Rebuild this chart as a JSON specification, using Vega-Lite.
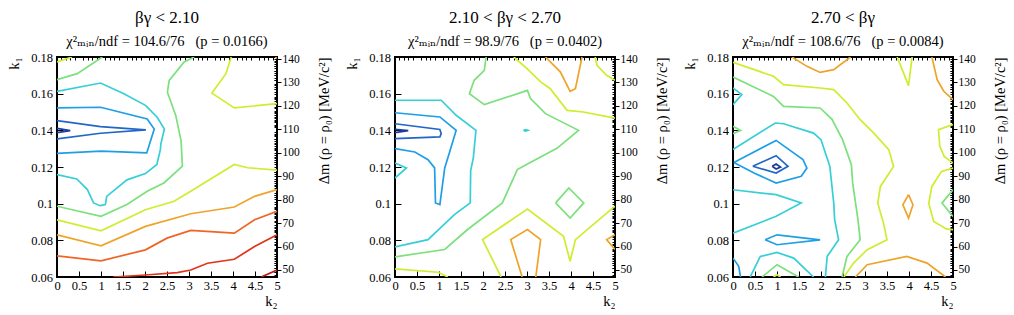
{
"$schema": "https://vega.github.io/schema/vega-lite/v6.json",
"background": "white",
"padding": {"left": 5, "top": 8, "right": 5, "bottom": 5},
"config": {
  "view": {"stroke": "black", "strokeWidth": 2},
  "font": "Liberation Serif, Times New Roman, DejaVu Serif, serif",
  "axis": {"grid": false, "domain": false, "labelFont": "Liberation Serif, Times New Roman, DejaVu Serif, serif", "titleFont": "Liberation Serif, Times New Roman, DejaVu Serif, serif", "labelFontSize": 12.5, "titleFontSize": 14.5, "labelColor": "black", "titleColor": "black", "tickColor": "black", "titleFontWeight": "normal", "labelFlush": false, "labelOverlap": false, "tickWidth": 1},
  "title": {"font": "Liberation Serif, Times New Roman, DejaVu Serif, serif", "fontSize": 17, "fontWeight": "normal", "subtitleFont": "Liberation Serif, Times New Roman, DejaVu Serif, serif", "subtitleFontSize": 14.5, "color": "black", "subtitleColor": "black", "anchor": "middle", "offset": 1.5, "subtitlePadding": 8}
},
"datasets": {
"p1": [
{"c":"a","l":5,"o":0,"x":0,"y":0.1773},{"c":"a","l":5,"o":1,"x":0.34,"y":0.18},
{"c":"b","l":4,"o":0,"x":0,"y":0.1676},{"c":"b","l":4,"o":1,"x":0.46,"y":0.1709},{"c":"b","l":4,"o":2,"x":1.03,"y":0.18},
{"c":"c","l":3,"o":0,"x":0,"y":0.1612},{"c":"c","l":3,"o":1,"x":0.99,"y":0.1658},{"c":"c","l":3,"o":2,"x":1.52,"y":0.16},{"c":"c","l":3,"o":3,"x":2.02,"y":0.1535},{"c":"c","l":3,"o":4,"x":2.28,"y":0.147},{"c":"c","l":3,"o":5,"x":2.44,"y":0.1407},{"c":"c","l":3,"o":6,"x":2.36,"y":0.1325},{"c":"c","l":3,"o":7,"x":2.35,"y":0.1296},{"c":"c","l":3,"o":8,"x":2.27,"y":0.1214},{"c":"c","l":3,"o":9,"x":2.01,"y":0.1164},{"c":"c","l":3,"o":10,"x":1.59,"y":0.113},{"c":"c","l":3,"o":11,"x":1.13,"y":0.104},{"c":"c","l":3,"o":12,"x":1.1,"y":0.0995},{"c":"c","l":3,"o":13,"x":0.98,"y":0.0989},{"c":"c","l":3,"o":14,"x":0.83,"y":0.1004},{"c":"c","l":3,"o":15,"x":0.69,"y":0.1077},{"c":"c","l":3,"o":16,"x":0.45,"y":0.1135},{"c":"c","l":3,"o":17,"x":0,"y":0.1159},
{"c":"d","l":2,"o":0,"x":0,"y":0.1522},{"c":"d","l":2,"o":1,"x":0.99,"y":0.1526},{"c":"d","l":2,"o":2,"x":2.05,"y":0.1462},{"c":"d","l":2,"o":3,"x":2.21,"y":0.1407},{"c":"d","l":2,"o":4,"x":2.04,"y":0.1277},{"c":"d","l":2,"o":5,"x":1.0,"y":0.1287},{"c":"d","l":2,"o":6,"x":0,"y":0.1274},
{"c":"e","l":1,"o":0,"x":0,"y":0.1453},{"c":"e","l":1,"o":1,"x":0.99,"y":0.142},{"c":"e","l":1,"o":2,"x":2.02,"y":0.1402},{"c":"e","l":1,"o":3,"x":0.99,"y":0.1384},{"c":"e","l":1,"o":4,"x":0,"y":0.1353},
{"c":"f","l":0,"o":0,"x":0,"y":0.1411},{"c":"f","l":0,"o":1,"x":0.3,"y":0.1398},{"c":"f","l":0,"o":2,"x":0,"y":0.1387},
{"c":"g","l":4,"o":0,"x":3.12,"y":0.18},{"c":"g","l":4,"o":1,"x":2.89,"y":0.1773},{"c":"g","l":4,"o":2,"x":2.55,"y":0.1672},{"c":"g","l":4,"o":3,"x":2.51,"y":0.1608},{"c":"g","l":4,"o":4,"x":2.7,"y":0.148},{"c":"g","l":4,"o":5,"x":2.82,"y":0.1343},{"c":"g","l":4,"o":6,"x":2.85,"y":0.1205},{"c":"g","l":4,"o":7,"x":2.43,"y":0.1113},{"c":"g","l":4,"o":8,"x":2.05,"y":0.1068},{"c":"g","l":4,"o":9,"x":1.59,"y":0.0995},{"c":"g","l":4,"o":10,"x":1.0,"y":0.0931},{"c":"g","l":4,"o":11,"x":0,"y":0.0986},
{"c":"h","l":5,"o":0,"x":3.96,"y":0.18},{"c":"h","l":5,"o":1,"x":3.84,"y":0.1709},{"c":"h","l":5,"o":2,"x":3.52,"y":0.1603},{"c":"h","l":5,"o":3,"x":4.03,"y":0.1522},{"c":"h","l":5,"o":4,"x":5,"y":0.1546},
{"c":"i","l":5,"o":0,"x":0,"y":0.0912},{"c":"i","l":5,"o":1,"x":1,"y":0.0852},{"c":"i","l":5,"o":2,"x":2.01,"y":0.0967},{"c":"i","l":5,"o":3,"x":2.66,"y":0.1013},{"c":"i","l":5,"o":4,"x":3.04,"y":0.1068},{"c":"i","l":5,"o":5,"x":4.03,"y":0.1214},{"c":"i","l":5,"o":6,"x":4.33,"y":0.1196},{"c":"i","l":5,"o":7,"x":5,"y":0.1183},
{"c":"j","l":6,"o":0,"x":0,"y":0.083},{"c":"j","l":6,"o":1,"x":1,"y":0.077},{"c":"j","l":6,"o":2,"x":2.01,"y":0.0876},{"c":"j","l":6,"o":3,"x":3.04,"y":0.0945},{"c":"j","l":6,"o":4,"x":4.03,"y":0.0982},{"c":"j","l":6,"o":5,"x":4.49,"y":0.104},{"c":"j","l":6,"o":6,"x":5,"y":0.1077},
{"c":"k","l":7,"o":0,"x":0,"y":0.0715},{"c":"k","l":7,"o":1,"x":1,"y":0.0688},{"c":"k","l":7,"o":2,"x":2.01,"y":0.0748},{"c":"k","l":7,"o":3,"x":2.5,"y":0.0812},{"c":"k","l":7,"o":4,"x":3.04,"y":0.0854},{"c":"k","l":7,"o":5,"x":4.03,"y":0.0839},{"c":"k","l":7,"o":6,"x":4.49,"y":0.0912},{"c":"k","l":7,"o":7,"x":5,"y":0.0958},
{"c":"l","l":8,"o":0,"x":1.28,"y":0.06},{"c":"l","l":8,"o":1,"x":2.01,"y":0.0611},{"c":"l","l":8,"o":2,"x":2.73,"y":0.0624},{"c":"l","l":8,"o":3,"x":3.04,"y":0.0638},{"c":"l","l":8,"o":4,"x":3.42,"y":0.0675},{"c":"l","l":8,"o":5,"x":4.03,"y":0.0697},{"c":"l","l":8,"o":6,"x":4.49,"y":0.0766},{"c":"l","l":8,"o":7,"x":5,"y":0.083},
{"c":"m","l":9,"o":0,"x":4.64,"y":0.06},{"c":"m","l":9,"o":1,"x":5,"y":0.0638},
{"c":"n","l":6,"o":0,"x":4.96,"y":0.18},{"c":"n","l":6,"o":1,"x":5,"y":0.1793}
],
"p2": [
{"c":"a","l":4,"o":0,"x":2.07,"y":0.18},{"c":"a","l":4,"o":1,"x":2.03,"y":0.1727},{"c":"a","l":4,"o":2,"x":1.8,"y":0.1673},{"c":"a","l":4,"o":3,"x":1.69,"y":0.16},{"c":"a","l":4,"o":4,"x":2.03,"y":0.154},{"c":"a","l":4,"o":5,"x":3.01,"y":0.1618},{"c":"a","l":4,"o":6,"x":3.08,"y":0.1573},{"c":"a","l":4,"o":7,"x":3.42,"y":0.1491},{"c":"a","l":4,"o":8,"x":4.17,"y":0.14},{"c":"a","l":4,"o":9,"x":3.68,"y":0.1302},{"c":"a","l":4,"o":10,"x":3.0,"y":0.1215},{"c":"a","l":4,"o":11,"x":2.78,"y":0.1186},{"c":"a","l":4,"o":12,"x":2.44,"y":0.1004},{"c":"a","l":4,"o":13,"x":1.65,"y":0.0859},{"c":"a","l":4,"o":14,"x":1.13,"y":0.075},{"c":"a","l":4,"o":15,"x":0,"y":0.071},
{"c":"b","l":5,"o":0,"x":2.7,"y":0.18},{"c":"b","l":5,"o":1,"x":3.0,"y":0.1736},{"c":"b","l":5,"o":2,"x":3.31,"y":0.1664},{"c":"b","l":5,"o":3,"x":3.53,"y":0.1627},{"c":"b","l":5,"o":4,"x":3.91,"y":0.1509},{"c":"b","l":5,"o":5,"x":4.28,"y":0.15},{"c":"b","l":5,"o":6,"x":5,"y":0.1467},
{"c":"c","l":6,"o":0,"x":3.42,"y":0.18},{"c":"c","l":6,"o":1,"x":3.76,"y":0.1718},{"c":"c","l":6,"o":2,"x":3.98,"y":0.1613},{"c":"c","l":6,"o":3,"x":4.1,"y":0.1627},{"c":"c","l":6,"o":4,"x":4.25,"y":0.18},
{"c":"d","l":5,"o":0,"x":4.55,"y":0.18},{"c":"d","l":5,"o":1,"x":4.59,"y":0.1755},{"c":"d","l":5,"o":2,"x":4.81,"y":0.17},{"c":"d","l":5,"o":3,"x":5,"y":0.1673},
{"c":"e","l":3,"o":0,"x":0,"y":0.1564},{"c":"e","l":3,"o":1,"x":1.05,"y":0.1564},{"c":"e","l":3,"o":2,"x":1.39,"y":0.1482},{"c":"e","l":3,"o":3,"x":1.84,"y":0.14},{"c":"e","l":3,"o":4,"x":1.78,"y":0.125},{"c":"e","l":3,"o":5,"x":1.72,"y":0.118},{"c":"e","l":3,"o":6,"x":1.71,"y":0.1004},{"c":"e","l":3,"o":7,"x":1.35,"y":0.094},{"c":"e","l":3,"o":8,"x":0.75,"y":0.0804},{"c":"e","l":3,"o":9,"x":0,"y":0.0764},
{"c":"f","l":2,"o":0,"x":0,"y":0.1496},{"c":"f","l":2,"o":1,"x":1.02,"y":0.1473},{"c":"f","l":2,"o":2,"x":1.39,"y":0.14},{"c":"f","l":2,"o":3,"x":1.24,"y":0.128},{"c":"f","l":2,"o":4,"x":1.13,"y":0.1195},{"c":"f","l":2,"o":5,"x":1.02,"y":0.0995},{"c":"f","l":2,"o":6,"x":0.92,"y":0.1004},{"c":"f","l":2,"o":7,"x":0.9,"y":0.1195},{"c":"f","l":2,"o":8,"x":0.75,"y":0.124},{"c":"f","l":2,"o":9,"x":0.45,"y":0.1282},{"c":"f","l":2,"o":10,"x":0,"y":0.13},
{"c":"g","l":1,"o":0,"x":0,"y":0.1436},{"c":"g","l":1,"o":1,"x":1.02,"y":0.1405},{"c":"g","l":1,"o":2,"x":1.05,"y":0.1382},{"c":"g","l":1,"o":3,"x":1.02,"y":0.1364},{"c":"g","l":1,"o":4,"x":0,"y":0.1355},
{"c":"h","l":0,"o":0,"x":0,"y":0.1405},{"c":"h","l":0,"o":1,"x":0.3,"y":0.1398},{"c":"h","l":0,"o":2,"x":0,"y":0.1387},
{"c":"i","l":3,"o":0,"x":2.92,"y":0.14},{"c":"i","l":3,"o":1,"x":2.97,"y":0.1404},{"c":"i","l":3,"o":2,"x":3.02,"y":0.14},{"c":"i","l":3,"o":3,"x":2.97,"y":0.1396},{"c":"i","l":3,"o":4,"x":2.92,"y":0.14},
{"c":"j","l":3,"o":0,"x":0,"y":0.1222},{"c":"j","l":3,"o":1,"x":0.26,"y":0.1195},{"c":"j","l":3,"o":2,"x":0,"y":0.114},
{"c":"k","l":4,"o":0,"x":3.65,"y":0.1004},{"c":"k","l":4,"o":1,"x":3.95,"y":0.1086},{"c":"k","l":4,"o":2,"x":4.29,"y":0.1004},{"c":"k","l":4,"o":3,"x":3.98,"y":0.0922},{"c":"k","l":4,"o":4,"x":3.65,"y":0.1004},
{"c":"l","l":5,"o":0,"x":2.41,"y":0.06},{"c":"l","l":5,"o":1,"x":1.99,"y":0.0804},{"c":"l","l":5,"o":2,"x":3.01,"y":0.0971},{"c":"l","l":5,"o":3,"x":3.83,"y":0.0822},{"c":"l","l":5,"o":4,"x":3.98,"y":0.0686},{"c":"l","l":5,"o":5,"x":4.1,"y":0.0804},{"c":"l","l":5,"o":6,"x":5,"y":0.0986},
{"c":"m","l":5,"o":0,"x":0,"y":0.0644},{"c":"m","l":5,"o":1,"x":0.98,"y":0.0626},{"c":"m","l":5,"o":2,"x":1.2,"y":0.06},
{"c":"n","l":6,"o":0,"x":2.89,"y":0.06},{"c":"n","l":6,"o":1,"x":2.63,"y":0.0804},{"c":"n","l":6,"o":2,"x":3.01,"y":0.0859},{"c":"n","l":6,"o":3,"x":3.31,"y":0.0804},{"c":"n","l":6,"o":4,"x":3.2,"y":0.06},
{"c":"o","l":6,"o":0,"x":5,"y":0.0831},{"c":"o","l":6,"o":1,"x":4.81,"y":0.0804},{"c":"o","l":6,"o":2,"x":5,"y":0.075}
],
"p3": [
{"c":"a","l":5,"o":0,"x":0,"y":0.1771},{"c":"a","l":5,"o":1,"x":0.92,"y":0.1695},{"c":"a","l":5,"o":2,"x":1.15,"y":0.1649},{"c":"a","l":5,"o":3,"x":1.98,"y":0.1631},{"c":"a","l":5,"o":4,"x":2.29,"y":0.1622},{"c":"a","l":5,"o":5,"x":2.59,"y":0.1549},{"c":"a","l":5,"o":6,"x":2.89,"y":0.1458},{"c":"a","l":5,"o":7,"x":3.2,"y":0.1385},{"c":"a","l":5,"o":8,"x":3.54,"y":0.1295},{"c":"a","l":5,"o":9,"x":3.65,"y":0.1203},{"c":"a","l":5,"o":10,"x":3.35,"y":0.1094},{"c":"a","l":5,"o":11,"x":3.29,"y":0.1003},{"c":"a","l":5,"o":12,"x":3.42,"y":0.0894},{"c":"a","l":5,"o":13,"x":3.5,"y":0.0803},{"c":"a","l":5,"o":14,"x":3.05,"y":0.0749},{"c":"a","l":5,"o":15,"x":2.74,"y":0.0676},{"c":"a","l":5,"o":16,"x":2.52,"y":0.06},
{"c":"b","l":4,"o":0,"x":0,"y":0.1691},{"c":"b","l":4,"o":1,"x":0.92,"y":0.1585},{"c":"b","l":4,"o":2,"x":1.15,"y":0.1531},{"c":"b","l":4,"o":3,"x":1.98,"y":0.1522},{"c":"b","l":4,"o":4,"x":2.25,"y":0.146},{"c":"b","l":4,"o":5,"x":2.49,"y":0.1349},{"c":"b","l":4,"o":6,"x":2.69,"y":0.1213},{"c":"b","l":4,"o":7,"x":2.72,"y":0.1112},{"c":"b","l":4,"o":8,"x":2.84,"y":0.0913},{"c":"b","l":4,"o":9,"x":2.89,"y":0.0803},{"c":"b","l":4,"o":10,"x":2.59,"y":0.0712},{"c":"b","l":4,"o":11,"x":2.48,"y":0.06},
{"c":"c","l":3,"o":0,"x":0,"y":0.1295},{"c":"c","l":3,"o":1,"x":0.96,"y":0.144},{"c":"c","l":3,"o":2,"x":1.15,"y":0.1436},{"c":"c","l":3,"o":3,"x":1.83,"y":0.1385},{"c":"c","l":3,"o":4,"x":2.0,"y":0.1349},{"c":"c","l":3,"o":5,"x":2.2,"y":0.1204},{"c":"c","l":3,"o":6,"x":2.29,"y":0.1003},{"c":"c","l":3,"o":7,"x":2.31,"y":0.0913},{"c":"c","l":3,"o":8,"x":2.4,"y":0.0803},{"c":"c","l":3,"o":9,"x":2.14,"y":0.0712},{"c":"c","l":3,"o":10,"x":2.1,"y":0.06},
{"c":"d","l":3,"o":0,"x":0,"y":0.1631},{"c":"d","l":3,"o":1,"x":0.2,"y":0.1595},{"c":"d","l":3,"o":2,"x":0,"y":0.154},
{"c":"e","l":4,"o":0,"x":0,"y":0.1422},{"c":"e","l":4,"o":1,"x":0.17,"y":0.14},{"c":"e","l":4,"o":2,"x":0,"y":0.1382},
{"c":"f","l":6,"o":0,"x":1.34,"y":0.18},{"c":"f","l":6,"o":1,"x":1.68,"y":0.1749},{"c":"f","l":6,"o":2,"x":1.98,"y":0.1716},{"c":"f","l":6,"o":3,"x":2.29,"y":0.1731},{"c":"f","l":6,"o":4,"x":2.67,"y":0.18},
{"c":"g","l":5,"o":0,"x":3.73,"y":0.18},{"c":"g","l":5,"o":1,"x":3.99,"y":0.1644},{"c":"g","l":5,"o":2,"x":4.07,"y":0.18},
{"c":"h","l":6,"o":0,"x":4.52,"y":0.18},{"c":"h","l":6,"o":1,"x":4.64,"y":0.1676},{"c":"h","l":6,"o":2,"x":4.79,"y":0.1613},{"c":"h","l":6,"o":3,"x":5,"y":0.1567},
{"c":"i","l":5,"o":0,"x":5,"y":0.1431},{"c":"i","l":5,"o":1,"x":4.67,"y":0.1404},{"c":"i","l":5,"o":2,"x":4.7,"y":0.1313},{"c":"i","l":5,"o":3,"x":4.8,"y":0.1258},{"c":"i","l":5,"o":4,"x":5,"y":0.1222},
{"c":"j","l":5,"o":0,"x":5,"y":0.1194},{"c":"j","l":5,"o":1,"x":4.74,"y":0.1176},{"c":"j","l":5,"o":2,"x":4.52,"y":0.1094},{"c":"j","l":5,"o":3,"x":4.45,"y":0.1003},{"c":"j","l":5,"o":4,"x":4.56,"y":0.0903},{"c":"j","l":5,"o":5,"x":4.86,"y":0.0861},{"c":"j","l":5,"o":6,"x":5,"y":0.0858},
{"c":"k","l":4,"o":0,"x":5,"y":0.1076},{"c":"k","l":4,"o":1,"x":4.75,"y":0.1003},{"c":"k","l":4,"o":2,"x":5,"y":0.093},
{"c":"l","l":2,"o":0,"x":0.02,"y":0.1225},{"c":"l","l":2,"o":1,"x":0.98,"y":0.1345},{"c":"l","l":2,"o":2,"x":1.59,"y":0.124},{"c":"l","l":2,"o":3,"x":1.68,"y":0.1194},{"c":"l","l":2,"o":4,"x":1.55,"y":0.1149},{"c":"l","l":2,"o":5,"x":0.98,"y":0.1112},{"c":"l","l":2,"o":6,"x":0.5,"y":0.1165},{"c":"l","l":2,"o":7,"x":0.02,"y":0.1225},
{"c":"m","l":1,"o":0,"x":0.45,"y":0.1204},{"c":"m","l":1,"o":1,"x":0.98,"y":0.1262},{"c":"m","l":1,"o":2,"x":1.25,"y":0.1204},{"c":"m","l":1,"o":3,"x":0.98,"y":0.1167},{"c":"m","l":1,"o":4,"x":0.45,"y":0.1204},
{"c":"n","l":0,"o":0,"x":0.89,"y":0.1204},{"c":"n","l":0,"o":1,"x":0.98,"y":0.1216},{"c":"n","l":0,"o":2,"x":1.08,"y":0.12},{"c":"n","l":0,"o":3,"x":0.98,"y":0.1189},{"c":"n","l":0,"o":4,"x":0.89,"y":0.1204},
{"c":"o","l":3,"o":0,"x":0,"y":0.1076},{"c":"o","l":3,"o":1,"x":0.98,"y":0.1049},{"c":"o","l":3,"o":2,"x":1.55,"y":0.1004},{"c":"o","l":3,"o":3,"x":0.98,"y":0.0931},{"c":"o","l":3,"o":4,"x":0,"y":0.0839},
{"c":"p","l":2,"o":0,"x":0.73,"y":0.0803},{"c":"p","l":2,"o":1,"x":1,"y":0.083},{"c":"p","l":2,"o":2,"x":1.98,"y":0.0803},{"c":"p","l":2,"o":3,"x":1,"y":0.0776},{"c":"p","l":2,"o":4,"x":0.73,"y":0.0803},
{"c":"q","l":3,"o":0,"x":0.39,"y":0.06},{"c":"q","l":3,"o":1,"x":0.62,"y":0.0712},{"c":"q","l":3,"o":2,"x":1,"y":0.0734},{"c":"q","l":3,"o":3,"x":1.38,"y":0.0703},{"c":"q","l":3,"o":4,"x":1.83,"y":0.06},
{"c":"r","l":4,"o":0,"x":0.66,"y":0.06},{"c":"r","l":4,"o":1,"x":1,"y":0.0667},{"c":"r","l":4,"o":2,"x":1.49,"y":0.06},
{"c":"s","l":5,"o":0,"x":0.92,"y":0.06},{"c":"s","l":5,"o":1,"x":1,"y":0.0612},{"c":"s","l":5,"o":2,"x":1.08,"y":0.06},
{"c":"t","l":2,"o":0,"x":0,"y":0.0703},{"c":"t","l":2,"o":1,"x":0.13,"y":0.0658},{"c":"t","l":2,"o":2,"x":0.17,"y":0.06},
{"c":"u","l":6,"o":0,"x":2.78,"y":0.06},{"c":"u","l":6,"o":1,"x":3.05,"y":0.0667},{"c":"u","l":6,"o":2,"x":3.95,"y":0.0712},{"c":"u","l":6,"o":3,"x":4.41,"y":0.0676},{"c":"u","l":6,"o":4,"x":4.83,"y":0.06},
{"c":"v","l":6,"o":0,"x":3.99,"y":0.1049},{"c":"v","l":6,"o":1,"x":4.09,"y":0.0994},{"c":"v","l":6,"o":2,"x":3.99,"y":0.0921},{"c":"v","l":6,"o":3,"x":3.86,"y":0.0994},{"c":"v","l":6,"o":4,"x":3.99,"y":0.1049}
],
"corner": [{"x": 0, "y": 0.06, "d": 50}]
},
"bounds": "flush",
"spacing": 118,
"hconcat": [
{
 "title": {"text": "βγ < 2.10", "subtitle": "χ²ₘᵢₙ/ndf = 104.6/76\u00a0\u00a0\u00a0(p = 0.0166)"},
 "width": 220, "height": 220,
 "layer": [
  {"data": {"name": "p1"}, "mark": {"type": "line", "strokeWidth": 1.7, "clip": true},
   "encoding": {
    "x": {"field": "x", "type": "quantitative", "scale": {"domain": [0, 5], "nice": false, "zero": false}, "axis": {"values": [0,0.5,1,1.5,2,2.5,3,3.5,4,4.5,5], "format": "~g", "tickSize": -6, "labelPadding": 8.5, "title": "k₂", "titleAnchor": "end", "titlePadding": 2}},
    "y": {"field": "y", "type": "quantitative", "scale": {"domain": [0.06, 0.18], "nice": false, "zero": false}, "axis": {"values": [0.06,0.08,0.1,0.12,0.14,0.16,0.18], "format": "~g", "tickSize": -6, "labelPadding": 10.5, "title": "k₁", "titleAnchor": "end", "titlePadding": 9}},
    "color": {"field": "l", "type": "ordinal", "scale": {"domain": [0,1,2,3,4,5,6,7,8,9], "range": ["#1a3c9c","#2166c8","#1f9ee6","#36cfd6","#7ce07c","#cdee2e","#eea42a","#f06424","#e0341c","#bf1a14"]}, "legend": null},
    "detail": {"field": "c", "type": "nominal"},
    "order": {"field": "o", "type": "quantitative"}
   }},
  {"data": {"name": "corner"}, "mark": {"type": "point", "opacity": 0},
   "encoding": {
    "x": {"field": "x", "type": "quantitative", "axis": {"values": [0.1,0.2,0.3,0.4,0.6,0.7,0.8,0.9,1.1,1.2,1.3,1.4,1.6,1.7,1.8,1.9,2.1,2.2,2.3,2.4,2.6,2.7,2.8,2.9,3.1,3.2,3.3,3.4,3.6,3.7,3.8,3.9,4.1,4.2,4.3,4.4,4.6,4.7,4.8,4.9], "tickSize": -3, "labels": false, "title": null}},
    "y": {"field": "y", "type": "quantitative", "scale": {"domain": [0.06, 0.18], "nice": false, "zero": false}, "axis": {"values": [0.0625,0.065,0.0675,0.07,0.0725,0.075,0.0775,0.0825,0.085,0.0875,0.09,0.0925,0.095,0.0975,0.1025,0.105,0.1075,0.11,0.1125,0.115,0.1175,0.1225,0.125,0.1275,0.13,0.1325,0.135,0.1375,0.1425,0.145,0.1475,0.15,0.1525,0.155,0.1575,0.1625,0.165,0.1675,0.17,0.1725,0.175,0.1775], "tickSize": -3, "labels": false, "title": null}}
   }},
  {"data": {"name": "corner"}, "mark": {"type": "point", "opacity": 0},
   "encoding": {
    "x": {"field": "x", "type": "quantitative", "axis": null},
    "y": {"field": "d", "type": "quantitative", "scale": {"domain": [47, 140.86], "nice": false, "zero": false}, "axis": {"orient": "right", "values": [50,60,70,80,90,100,110,120,130,140], "tickSize": 4, "labelPadding": 1, "labelFontSize": 11.5, "title": "Δm (ρ = ρ₀) [MeV/c²]", "titleAngle": 270, "titleBaseline": "top", "titleAnchor": "end", "titlePadding": 18}}
   }},
  {"data": {"name": "corner"}, "mark": {"type": "point", "opacity": 0},
   "encoding": {
    "x": {"field": "x", "type": "quantitative", "axis": null},
    "y": {"field": "d", "type": "quantitative", "scale": {"domain": [47, 140.86], "nice": false, "zero": false}, "axis": {"orient": "right", "values": [48,49,51,52,53,54,55,56,57,58,59,61,62,63,64,65,66,67,68,69,71,72,73,74,75,76,77,78,79,81,82,83,84,85,86,87,88,89,91,92,93,94,95,96,97,98,99,101,102,103,104,105,106,107,108,109,111,112,113,114,115,116,117,118,119,121,122,123,124,125,126,127,128,129,131,132,133,134,135,136,137,138,139,140], "tickSize": -3, "labels": false, "title": null}}
   }}
 ],
 "resolve": {"scale": {"y": "independent"}, "axis": {"x": "independent", "y": "independent"}}
},
{
 "title": {"text": "2.10 < βγ < 2.70", "subtitle": "χ²ₘᵢₙ/ndf = 98.9/76\u00a0\u00a0\u00a0(p = 0.0402)"},
 "width": 220, "height": 220,
 "layer": [
  {"data": {"name": "p2"}, "mark": {"type": "line", "strokeWidth": 1.7, "clip": true},
   "encoding": {
    "x": {"field": "x", "type": "quantitative", "scale": {"domain": [0, 5], "nice": false, "zero": false}, "axis": {"values": [0,0.5,1,1.5,2,2.5,3,3.5,4,4.5,5], "format": "~g", "tickSize": -6, "labelPadding": 8.5, "title": "k₂", "titleAnchor": "end", "titlePadding": 2}},
    "y": {"field": "y", "type": "quantitative", "scale": {"domain": [0.06, 0.18], "nice": false, "zero": false}, "axis": {"values": [0.06,0.08,0.1,0.12,0.14,0.16,0.18], "format": "~g", "tickSize": -6, "labelPadding": 10.5, "title": "k₁", "titleAnchor": "end", "titlePadding": 9}},
    "color": {"field": "l", "type": "ordinal", "scale": {"domain": [0,1,2,3,4,5,6,7,8,9], "range": ["#1a3c9c","#2166c8","#1f9ee6","#36cfd6","#7ce07c","#cdee2e","#eea42a","#f06424","#e0341c","#bf1a14"]}, "legend": null},
    "detail": {"field": "c", "type": "nominal"},
    "order": {"field": "o", "type": "quantitative"}
   }},
  {"data": {"name": "corner"}, "mark": {"type": "point", "opacity": 0},
   "encoding": {
    "x": {"field": "x", "type": "quantitative", "axis": {"values": [0.1,0.2,0.3,0.4,0.6,0.7,0.8,0.9,1.1,1.2,1.3,1.4,1.6,1.7,1.8,1.9,2.1,2.2,2.3,2.4,2.6,2.7,2.8,2.9,3.1,3.2,3.3,3.4,3.6,3.7,3.8,3.9,4.1,4.2,4.3,4.4,4.6,4.7,4.8,4.9], "tickSize": -3, "labels": false, "title": null}},
    "y": {"field": "y", "type": "quantitative", "scale": {"domain": [0.06, 0.18], "nice": false, "zero": false}, "axis": {"values": [0.0625,0.065,0.0675,0.07,0.0725,0.075,0.0775,0.0825,0.085,0.0875,0.09,0.0925,0.095,0.0975,0.1025,0.105,0.1075,0.11,0.1125,0.115,0.1175,0.1225,0.125,0.1275,0.13,0.1325,0.135,0.1375,0.1425,0.145,0.1475,0.15,0.1525,0.155,0.1575,0.1625,0.165,0.1675,0.17,0.1725,0.175,0.1775], "tickSize": -3, "labels": false, "title": null}}
   }},
  {"data": {"name": "corner"}, "mark": {"type": "point", "opacity": 0},
   "encoding": {
    "x": {"field": "x", "type": "quantitative", "axis": null},
    "y": {"field": "d", "type": "quantitative", "scale": {"domain": [47, 140.86], "nice": false, "zero": false}, "axis": {"orient": "right", "values": [50,60,70,80,90,100,110,120,130,140], "tickSize": 4, "labelPadding": 1, "labelFontSize": 11.5, "title": "Δm (ρ = ρ₀) [MeV/c²]", "titleAngle": 270, "titleBaseline": "top", "titleAnchor": "end", "titlePadding": 18}}
   }},
  {"data": {"name": "corner"}, "mark": {"type": "point", "opacity": 0},
   "encoding": {
    "x": {"field": "x", "type": "quantitative", "axis": null},
    "y": {"field": "d", "type": "quantitative", "scale": {"domain": [47, 140.86], "nice": false, "zero": false}, "axis": {"orient": "right", "values": [48,49,51,52,53,54,55,56,57,58,59,61,62,63,64,65,66,67,68,69,71,72,73,74,75,76,77,78,79,81,82,83,84,85,86,87,88,89,91,92,93,94,95,96,97,98,99,101,102,103,104,105,106,107,108,109,111,112,113,114,115,116,117,118,119,121,122,123,124,125,126,127,128,129,131,132,133,134,135,136,137,138,139,140], "tickSize": -3, "labels": false, "title": null}}
   }}
 ],
 "resolve": {"scale": {"y": "independent"}, "axis": {"x": "independent", "y": "independent"}}
},
{
 "title": {"text": "2.70 < βγ", "subtitle": "χ²ₘᵢₙ/ndf = 108.6/76\u00a0\u00a0\u00a0(p = 0.0084)"},
 "width": 220, "height": 220,
 "layer": [
  {"data": {"name": "p3"}, "mark": {"type": "line", "strokeWidth": 1.7, "clip": true},
   "encoding": {
    "x": {"field": "x", "type": "quantitative", "scale": {"domain": [0, 5], "nice": false, "zero": false}, "axis": {"values": [0,0.5,1,1.5,2,2.5,3,3.5,4,4.5,5], "format": "~g", "tickSize": -6, "labelPadding": 8.5, "title": "k₂", "titleAnchor": "end", "titlePadding": 2}},
    "y": {"field": "y", "type": "quantitative", "scale": {"domain": [0.06, 0.18], "nice": false, "zero": false}, "axis": {"values": [0.06,0.08,0.1,0.12,0.14,0.16,0.18], "format": "~g", "tickSize": -6, "labelPadding": 10.5, "title": "k₁", "titleAnchor": "end", "titlePadding": 9}},
    "color": {"field": "l", "type": "ordinal", "scale": {"domain": [0,1,2,3,4,5,6,7,8,9], "range": ["#1a3c9c","#2166c8","#1f9ee6","#36cfd6","#7ce07c","#cdee2e","#eea42a","#f06424","#e0341c","#bf1a14"]}, "legend": null},
    "detail": {"field": "c", "type": "nominal"},
    "order": {"field": "o", "type": "quantitative"}
   }},
  {"data": {"name": "corner"}, "mark": {"type": "point", "opacity": 0},
   "encoding": {
    "x": {"field": "x", "type": "quantitative", "axis": {"values": [0.1,0.2,0.3,0.4,0.6,0.7,0.8,0.9,1.1,1.2,1.3,1.4,1.6,1.7,1.8,1.9,2.1,2.2,2.3,2.4,2.6,2.7,2.8,2.9,3.1,3.2,3.3,3.4,3.6,3.7,3.8,3.9,4.1,4.2,4.3,4.4,4.6,4.7,4.8,4.9], "tickSize": -3, "labels": false, "title": null}},
    "y": {"field": "y", "type": "quantitative", "scale": {"domain": [0.06, 0.18], "nice": false, "zero": false}, "axis": {"values": [0.0625,0.065,0.0675,0.07,0.0725,0.075,0.0775,0.0825,0.085,0.0875,0.09,0.0925,0.095,0.0975,0.1025,0.105,0.1075,0.11,0.1125,0.115,0.1175,0.1225,0.125,0.1275,0.13,0.1325,0.135,0.1375,0.1425,0.145,0.1475,0.15,0.1525,0.155,0.1575,0.1625,0.165,0.1675,0.17,0.1725,0.175,0.1775], "tickSize": -3, "labels": false, "title": null}}
   }},
  {"data": {"name": "corner"}, "mark": {"type": "point", "opacity": 0},
   "encoding": {
    "x": {"field": "x", "type": "quantitative", "axis": null},
    "y": {"field": "d", "type": "quantitative", "scale": {"domain": [47, 140.86], "nice": false, "zero": false}, "axis": {"orient": "right", "values": [50,60,70,80,90,100,110,120,130,140], "tickSize": 4, "labelPadding": 1, "labelFontSize": 11.5, "title": "Δm (ρ = ρ₀) [MeV/c²]", "titleAngle": 270, "titleBaseline": "top", "titleAnchor": "end", "titlePadding": 18}}
   }},
  {"data": {"name": "corner"}, "mark": {"type": "point", "opacity": 0},
   "encoding": {
    "x": {"field": "x", "type": "quantitative", "axis": null},
    "y": {"field": "d", "type": "quantitative", "scale": {"domain": [47, 140.86], "nice": false, "zero": false}, "axis": {"orient": "right", "values": [48,49,51,52,53,54,55,56,57,58,59,61,62,63,64,65,66,67,68,69,71,72,73,74,75,76,77,78,79,81,82,83,84,85,86,87,88,89,91,92,93,94,95,96,97,98,99,101,102,103,104,105,106,107,108,109,111,112,113,114,115,116,117,118,119,121,122,123,124,125,126,127,128,129,131,132,133,134,135,136,137,138,139,140], "tickSize": -3, "labels": false, "title": null}}
   }}
 ],
 "resolve": {"scale": {"y": "independent"}, "axis": {"x": "independent", "y": "independent"}}
}
]
}
